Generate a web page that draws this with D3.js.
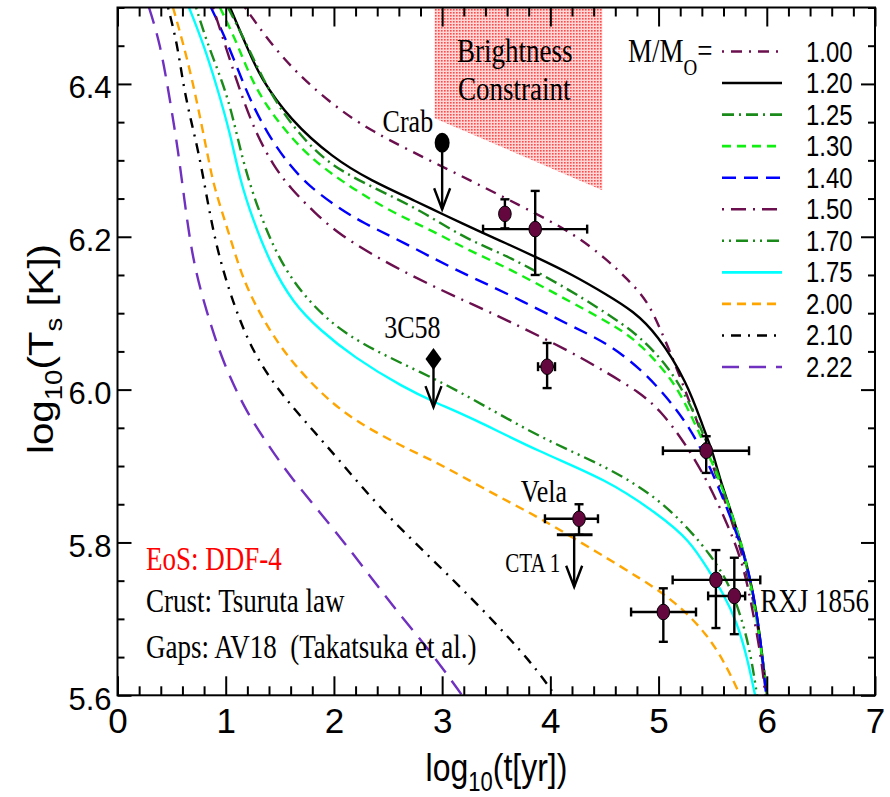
<!DOCTYPE html>
<html><head><meta charset="utf-8">
<script src="https://cdn.jsdelivr.net/npm/d3@7"></script>
<style>body{margin:0;background:#fff} svg{display:block}</style>
</head><body>
<svg id="chart" width="890" height="797"></svg>
<script>
// ---------------- data ----------------
const masses = ["1.00","1.20","1.25","1.30","1.40","1.50","1.70","1.75","2.00","2.10","2.22"];
const c100 = [[1.178,6.5],[1.409,6.454],[1.659,6.414],[1.936,6.379],[2.306,6.340],[3.073,6.287],[3.748,6.239],[4.210,6.205],[4.524,6.170],[4.709,6.145],[4.894,6.117],[5.014,6.080],[5.134,6.040],[5.226,6.006],[5.319,5.972],[5.411,5.938],[5.550,5.880],[5.689,5.823],[5.818,5.762],[5.910,5.700],[5.966,5.638],[5.994,5.6]];
const c120 = [[1.040,6.5],[1.206,6.445],[1.317,6.409],[1.594,6.353],[1.992,6.303],[2.334,6.274],[2.796,6.244],[2.981,6.231],[3.378,6.205],[3.581,6.192],[3.859,6.174],[4.210,6.150],[4.524,6.124],[4.764,6.103],[4.986,6.073],[5.263,6.010],[5.411,5.951],[5.504,5.917],[5.568,5.882],[5.689,5.833],[5.818,5.773],[5.910,5.708],[5.966,5.642],[6.003,5.6]];
const c125 = [[1.021,6.5],[1.197,6.451],[1.345,6.406],[1.502,6.368],[1.687,6.333],[1.964,6.293],[2.398,6.262],[2.796,6.235],[3.230,6.196],[3.600,6.176],[4.210,6.128],[4.616,6.091],[4.829,6.069],[5.079,6.032],[5.263,5.990],[5.448,5.932],[5.587,5.873],[5.707,5.823],[5.827,5.764],[5.910,5.705],[5.966,5.642],[6.003,5.6]];
const c130 = [[0.947,6.5],[1.104,6.454],[1.225,6.409],[1.382,6.370],[1.567,6.336],[1.779,6.304],[2.056,6.274],[2.491,6.235],[2.953,6.205],[3.230,6.183],[3.600,6.160],[4.210,6.113],[4.616,6.082],[4.829,6.060],[5.134,6.013],[5.291,5.969],[5.430,5.927],[5.596,5.869],[5.753,5.807],[5.846,5.751],[5.910,5.695],[5.966,5.642],[6.003,5.6]];
const c140 = [[0.864,6.5],[0.975,6.467],[1.104,6.422],[1.225,6.379],[1.382,6.336],[1.567,6.297],[1.779,6.265],[2.029,6.239],[2.269,6.218],[2.639,6.193],[3.073,6.160],[3.600,6.126],[4.210,6.082],[4.524,6.061],[4.829,6.028],[5.079,5.990],[5.291,5.950],[5.476,5.900],[5.689,5.825],[5.818,5.773],[5.910,5.708],[5.966,5.642],[5.994,5.6]];
const c150 = [[0.883,6.5],[1.040,6.431],[1.160,6.379],[1.289,6.333],[1.437,6.294],[1.594,6.264],[1.825,6.231],[2.056,6.202],[2.472,6.167],[2.888,6.137],[3.258,6.113],[3.600,6.091],[4.210,6.048],[4.524,6.022],[4.829,5.996],[5.014,5.973],[5.226,5.934],[5.448,5.882],[5.633,5.825],[5.781,5.773],[5.874,5.708],[5.957,5.642],[5.985,5.6]];
const c170 = [[0.726,6.5],[0.827,6.454],[0.975,6.401],[1.067,6.357],[1.178,6.287],[1.345,6.218],[1.530,6.160],[1.779,6.113],[2.084,6.074],[2.491,6.043],[2.953,6.013],[3.378,5.980],[3.951,5.934],[4.524,5.899],[4.986,5.859],[5.291,5.816],[5.476,5.784],[5.633,5.751],[5.753,5.708],[5.846,5.659],[5.910,5.6]];
const c175 = [[0.661,6.5],[0.790,6.454],[0.920,6.396],[1.040,6.336],[1.132,6.274],[1.252,6.222],[1.409,6.166],[1.622,6.113],[1.871,6.078],[2.177,6.043],[2.639,6.003],[2.953,5.982],[3.258,5.964],[3.905,5.918],[4.524,5.882],[4.986,5.838],[5.291,5.803],[5.476,5.760],[5.596,5.734],[5.726,5.695],[5.818,5.650],[5.892,5.6]];
const c200 = [[0.513,6.5],[0.605,6.454],[0.698,6.401],[0.781,6.344],[0.855,6.291],[0.901,6.261],[1.040,6.200],[1.160,6.143],[1.345,6.091],[1.567,6.043],[1.871,5.996],[2.177,5.960],[2.639,5.925],[2.916,5.907],[3.165,5.888],[3.535,5.859],[3.905,5.832],[4.459,5.785],[4.829,5.753],[5.134,5.725],[5.448,5.681],[5.633,5.637],[5.753,5.6]];
const c210 = [[0.467,6.5],[0.550,6.454],[0.605,6.401],[0.670,6.357],[0.744,6.314],[0.809,6.265],[0.910,6.187],[1.067,6.113],[1.252,6.048],[1.502,5.996],[1.779,5.951],[2.010,5.914],[2.454,5.840],[2.916,5.777],[3.378,5.712],[3.840,5.641],[4.043,5.6]];
const c222 = [[0.291,6.5],[0.393,6.454],[0.485,6.379],[0.559,6.314],[0.615,6.251],[0.698,6.166],[0.827,6.100],[0.975,6.035],[1.197,5.969],[1.382,5.930],[1.594,5.886],[1.992,5.819],[2.306,5.761],[2.611,5.705],[2.916,5.653],[3.184,5.6]];
const curves = [c100,c120,c125,c130,c140,c150,c170,c175,c200,c210,c222];

// observed pulsars with error bars (log t, log Ts)
const observed = [
  {name:"",         t:3.58,  T:6.230, tLo:3.58,  tHi:3.58,  TLo:6.211, THi:6.249},
  {name:"",         t:3.86,  T:6.210, tLo:3.378, tHi:4.34,  TLo:6.150, THi:6.260},
  {name:"",         t:3.97,  T:6.030, tLo:3.886, tHi:4.043, TLo:6.002, THi:6.061},
  {name:"Vela",     t:4.265, T:5.831, tLo:3.95,  tHi:4.44,  TLo:5.810, THi:5.850},
  {name:"",         t:5.44,  T:5.920, tLo:5.04,  tHi:5.836, TLo:5.891, THi:5.939},
  {name:"",         t:5.53,  T:5.751, tLo:5.13,  tHi:5.94,  TLo:5.688, THi:5.790},
  {name:"RXJ 1856", t:5.70,  T:5.730, tLo:5.458, tHi:5.80,  TLo:5.680, THi:5.780},
  {name:"",         t:5.044, T:5.709, tLo:4.746, tHi:5.346, TLo:5.670, THi:5.740}
];
// upper limits
const upperLimits = [
  {name:"Crab", t:3.00, T:6.323, Tto:6.236, marker:"ellipse"},
  {name:"3C58", t:2.92, T:6.040, Tto:5.977, marker:"diamond"},
  {name:"CTA 1", t:4.22, T:5.810, Tto:5.742, marker:"bar", tLo:4.06, tHi:4.39}
];
const brightness = [[2.93,6.5],[4.48,6.5],[4.48,6.261],[2.93,6.355]];
const xTicks = [0,1,2,3,4,5,6,7];
const yTicks = [5.6,5.8,6.0,6.2,6.4];
const xMinor = d3.range(0,7.01,0.2).map(v=>+v.toFixed(1)).filter(v=>!xTicks.includes(v));
const yMinor = d3.range(5.6,6.501,0.05).map(v=>+v.toFixed(2)).filter(v=>!yTicks.map(a=>+a.toFixed(2)).includes(v));

// ---------------- styles ----------------
const styles = [
  {color:"#6b0f4e", dash:"2,7,11,7"},
  {color:"#000000", dash:null},
  {color:"#1a8a1a", dash:"12,5,2,5"},
  {color:"#11ee11", dash:"9,6"},
  {color:"#0000ff", dash:"14,8"},
  {color:"#6b0f4e", dash:"2,7,15,7"},
  {color:"#1a8a1a", dash:"2,5,2,5,12,5"},
  {color:"#00ffff", dash:null},
  {color:"#ffa500", dash:"9,6"},
  {color:"#000000", dash:"2,7,10,7"},
  {color:"#7030c0", dash:"17,10"}
];
const SERIF = "'Liberation Serif','Times New Roman',serif";
const SANS = "'Liberation Sans',Arial,Helvetica,sans-serif";

const svg = d3.select("#chart");
const x = d3.scaleLinear().domain([0,7]).range([117.5,875]);
const y = d3.scaleLinear().domain([5.6,6.5]).range([695.3,7.5]);

const defs = svg.append("defs");
defs.append("clipPath").attr("id","plotclip").append("rect")
  .attr("x",x(0)).attr("y",y(6.5)).attr("width",x(7)-x(0)).attr("height",y(5.6)-y(6.5));
const pat = defs.append("pattern").attr("id","dots").attr("patternUnits","userSpaceOnUse")
  .attr("width",3).attr("height",3);
pat.append("rect").attr("width",3).attr("height",3).attr("fill","#ffd6d6");
pat.append("rect").attr("width",1.6).attr("height",1.6).attr("fill","#ff4a4a");

const plot = svg.append("g").attr("clip-path","url(#plotclip)");

// brightness constraint
plot.append("path")
  .attr("d", d3.line().x(d=>x(d[0])).y(d=>y(d[1]))(brightness)+"Z")
  .attr("fill","url(#dots)");

// curves
const line = d3.line().x(d=>x(d[0])).y(d=>y(d[1])).curve(d3.curveBasis);
curves.forEach((c,i)=>{
  plot.append("path").attr("d",line(c)).attr("fill","none")
    .attr("stroke",styles[i].color).attr("stroke-width",2.4)
    .attr("stroke-dasharray",styles[i].dash);
});

// helper for vertically stretched text
function stext(g, X, Y, str, size, family, opts={}){
  return g.append("text")
    .attr("transform",`translate(${X},${Y}) scale(1,${opts.sy||1.25})`)
    .attr("font-family",family).attr("font-size",size)
    .attr("text-anchor",opts.anchor||"start")
    .attr("fill",opts.fill||"#000")
    .style("white-space","pre")
    .text(str);
}

// axes
function styleAxis(g){ g.select(".domain").remove(); g.selectAll("line").attr("stroke","#000").attr("stroke-width",2); }
svg.append("g").attr("transform",`translate(0,${y(5.6)})`)
  .call(d3.axisBottom(x).tickValues(xTicks).tickSizeInner(-19).tickSizeOuter(0).tickPadding(13).tickFormat(d3.format("d")))
  .call(styleAxis)
  .call(g=>g.selectAll("text").attr("font-family",SANS).attr("font-size",35).attr("fill","#000"));
svg.append("g").attr("transform",`translate(0,${y(5.6)})`)
  .call(d3.axisBottom(x).tickValues(xMinor).tickSize(-9).tickFormat(""))
  .call(styleAxis);
svg.append("g").attr("transform",`translate(0,${y(6.5)})`)
  .call(d3.axisTop(x).tickValues(xTicks).tickSize(-19).tickFormat(""))
  .call(styleAxis);
svg.append("g").attr("transform",`translate(0,${y(6.5)})`)
  .call(d3.axisTop(x).tickValues(xMinor).tickSize(-9).tickFormat(""))
  .call(styleAxis);
svg.append("g").attr("transform",`translate(${x(0)},0)`)
  .call(d3.axisLeft(y).tickValues(yTicks).tickSizeInner(-14).tickSizeOuter(0).tickPadding(6).tickFormat(d3.format(".1f")))
  .call(styleAxis)
  .call(g=>g.selectAll("text").attr("font-family",SANS).attr("font-size",31).attr("dy","0.45em").attr("fill","#000"));
svg.append("g").attr("transform",`translate(${x(0)},0)`)
  .call(d3.axisLeft(y).tickValues(yMinor).tickSize(-7).tickFormat(""))
  .call(styleAxis);
svg.append("g").attr("transform",`translate(${x(7)},0)`)
  .call(d3.axisRight(y).tickValues(yTicks).tickSize(-14).tickFormat(""))
  .call(styleAxis);
svg.append("g").attr("transform",`translate(${x(7)},0)`)
  .call(d3.axisRight(y).tickValues(yMinor).tickSize(-7).tickFormat(""))
  .call(styleAxis);
svg.append("rect").attr("x",x(0)).attr("y",y(6.5)).attr("width",x(7)-x(0)).attr("height",y(5.6)-y(6.5))
  .attr("fill","none").attr("stroke","#000").attr("stroke-width",2);

// axis titles
const xt = svg.append("text").attr("transform","translate(496.5,781) scale(1,1.22)")
  .attr("font-family",SANS).attr("font-size",32).attr("text-anchor","middle");
xt.append("tspan").text("log");
xt.append("tspan").attr("font-size",22).attr("dy",8).text("10");
xt.append("tspan").attr("dy",-8).text("(t[yr])");
const yt = svg.append("text").attr("transform","translate(53,349) rotate(-90) scale(1.15,1)")
  .attr("font-family",SANS).attr("font-size",35).attr("text-anchor","middle");
yt.append("tspan").text("log");
yt.append("tspan").attr("font-size",24).attr("dy",9).text("10");
yt.append("tspan").attr("dy",-9).text("(T");
yt.append("tspan").attr("font-size",24).attr("dy",9).text("s");
yt.append("tspan").attr("dy",-9).text(" [K])");

// observed points with error bars
const pts = svg.append("g");
const cap = 4.5;
observed.forEach(d=>{
  const g = pts.append("g").attr("stroke","#000").attr("stroke-width",2.4);
  if(d.tHi>d.tLo){
    g.append("line").attr("x1",x(d.tLo)).attr("x2",x(d.tHi)).attr("y1",y(d.T)).attr("y2",y(d.T));
    g.append("line").attr("x1",x(d.tLo)).attr("x2",x(d.tLo)).attr("y1",y(d.T)-cap).attr("y2",y(d.T)+cap);
    g.append("line").attr("x1",x(d.tHi)).attr("x2",x(d.tHi)).attr("y1",y(d.T)-cap).attr("y2",y(d.T)+cap);
  }
  g.append("line").attr("x1",x(d.t)).attr("x2",x(d.t)).attr("y1",y(d.TLo)).attr("y2",y(d.THi));
  g.append("line").attr("x1",x(d.t)-cap).attr("x2",x(d.t)+cap).attr("y1",y(d.TLo)).attr("y2",y(d.TLo));
  g.append("line").attr("x1",x(d.t)-cap).attr("x2",x(d.t)+cap).attr("y1",y(d.THi)).attr("y2",y(d.THi));
});
// upper limits
upperLimits.forEach(d=>{
  const g = pts.append("g").attr("stroke","#000").attr("stroke-width",2.4).attr("fill","none");
  const X = x(d.t), Y0 = y(d.T), Y1 = y(d.Tto);
  if(d.marker==="bar"){
    g.append("line").attr("x1",x(d.tLo)).attr("x2",x(d.tHi)).attr("y1",Y0).attr("y2",Y0).attr("stroke-width",3);
  }
  g.append("line").attr("x1",X).attr("x2",X).attr("y1",Y0).attr("y2",Y1);
  g.append("path").attr("d",`M${X-8},${Y1-21}L${X},${Y1}L${X+8},${Y1-21}`);
  if(d.marker==="ellipse"){
    pts.append("ellipse").attr("cx",X).attr("cy",Y0).attr("rx",7.5).attr("ry",10).attr("fill","#000");
  } else if(d.marker==="diamond"){
    pts.append("path").attr("d",`M${X},${Y0-11}L${X+8},${Y0}L${X},${Y0+11}L${X-8},${Y0}Z`).attr("fill","#000");
  }
});
observed.forEach(d=>{
  pts.append("ellipse").attr("cx",x(d.t)).attr("cy",y(d.T)).attr("rx",6.3).attr("ry",7.8)
    .attr("fill","#65073f").attr("stroke","#000").attr("stroke-width",1);
});

// labels
const lab = svg.append("g");
const crab = upperLimits[0], c58 = upperLimits[1], cta = upperLimits[2];
stext(lab, x(crab.t)-9, y(crab.T)-11, crab.name, 26, SERIF, {anchor:"end"});
stext(lab, x(c58.t)+7, y(c58.T)-21, c58.name, 26, SERIF, {anchor:"end"});
stext(lab, x(cta.t)-14, y(cta.T)+37, cta.name, 21, SERIF, {anchor:"end"});
const vela = observed[3], rxj = observed[6];
stext(lab, x(vela.t)-12, y(vela.T)-17, vela.name, 26, SERIF, {anchor:"end"});
stext(lab, x(rxj.t)+26, y(rxj.T)+16, rxj.name, 27, SERIF);
stext(lab, 457, 62, "Brightness", 27, SERIF);
stext(lab, 458, 100, "Constraint", 27, SERIF);
stext(lab, 146, 570, "EoS: DDF-4", 27, SERIF, {fill:"#ff0000"});
stext(lab, 146, 612, "Crust: Tsuruta law", 27, SERIF);
stext(lab, 146, 658, "Gaps: AV18  (Takatsuka et al.)", 27, SERIF);

// legend
const leg = svg.append("g");
const mm = leg.append("text").attr("transform","translate(628,62) scale(1,1.25)")
  .attr("font-family",SERIF).attr("font-size",27);
mm.append("tspan").text("M/M");
mm.append("tspan").attr("font-size",19).attr("dy",10).text("O");
mm.append("tspan").attr("dy",-10).text("=");
masses.forEach((m,i)=>{
  const ly = 51.5 + i*31.55;
  leg.append("line").attr("x1",722).attr("x2",782).attr("y1",ly).attr("y2",ly)
    .attr("stroke",styles[i].color).attr("stroke-width",2.6).attr("stroke-dasharray",styles[i].dash);
  leg.append("text").attr("transform",`translate(806,${ly+10}) scale(0.92,1.12)`)
    .attr("font-family",SANS).attr("font-size",26).text(m);
});
</script>
</body></html>
